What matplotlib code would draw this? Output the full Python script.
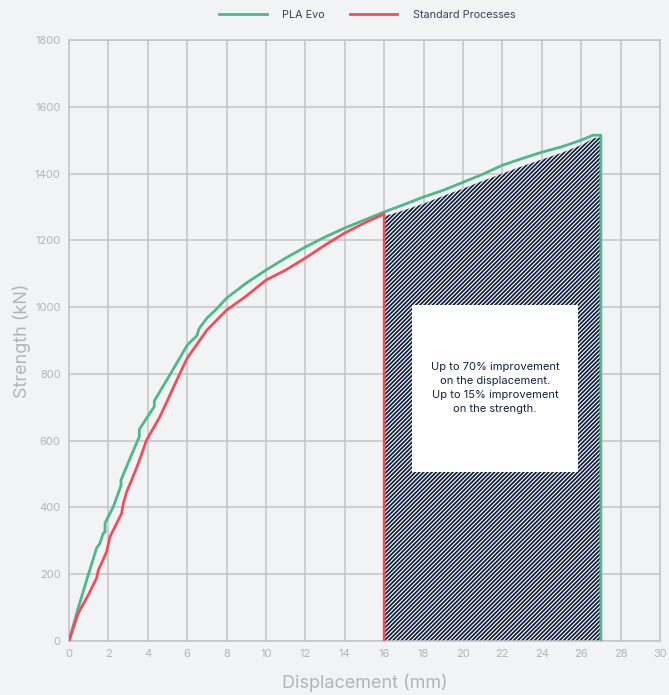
"""Strength vs displacement: PLA Evo vs standard processes."""

import matplotlib

matplotlib.use("Agg")
import matplotlib.pyplot as plt  # noqa: E402

# valors llegits del gràfic (desplaçament en mm, resistència en kN)
evo_x = [0, 0.45, 0.9, 1.4, 1.57, 1.74, 1.83, 1.83, 2.25, 2.64, 2.64, 3.1, 3.57, 3.57,
         4.33, 4.33, 4.96, 5.2, 5.3, 6.0, 6.5, 6.6, 7.0, 7.5, 8.0, 9.0, 10.0, 11.0,
         12.0, 13.0, 14.0, 15.0, 16.0, 17.0, 18.0, 19.0, 20.0, 21.0, 22.0, 23.0,
         24.0, 25.0, 26.0, 26.6, 27.0, 27.0]
evo_y = [0, 95, 183, 278, 293, 323, 326, 353, 402, 465, 482, 547, 612, 634,
         702, 719, 781, 805, 815, 886, 915, 935, 967, 995, 1027, 1072, 1111, 1147,
         1180, 1210, 1237, 1261, 1285, 1307, 1330, 1350, 1374, 1398, 1425, 1445,
         1464, 1480, 1500, 1515, 1515, 0]

std_x = [0, 0.47, 1.0, 1.4, 1.49, 1.91, 2.08, 2.42, 2.67, 2.76, 2.93, 3.18, 3.52,
         3.94, 4.62, 5.47, 6.0, 7.0, 8.0, 9.0, 10.0, 11.0, 12.0, 13.0, 14.0, 15.0,
         16.0, 16.0]
std_y = [0, 83, 140, 188, 212, 267, 312, 352, 382, 412, 447, 482, 532,
         602, 672, 781, 847, 931, 991, 1033, 1081, 1111, 1147, 1186, 1222, 1252,
         1279, 0]

# límit superior de la zona ratllada
hatch_x = [16.0, 17.0, 18.0, 19.0, 20.0, 21.0, 22.0, 23.0, 24.0, 25.0, 26.0, 26.6, 27.0]
hatch_y = [1272, 1290, 1310, 1333, 1355, 1378, 1400, 1422, 1442, 1462, 1485, 1505, 1510]

note = ("Up to 70% improvement\non the displacement.\n"
        "Up to 15% improvement\non the strength.")

GREEN = "#4db88a"
RED = "#f04e5b"
NAVY = "#13213f"
BG = "#f2f3f5"
GRID = "#c4c4c4"
TICK = "#b4b4b4"

plt.rcParams["font.family"] = ["Inter", "DejaVu Sans"]
plt.rcParams["hatch.linewidth"] = 1.3
plt.rcParams["hatch.color"] = NAVY

fig = plt.figure(figsize=(6.69, 6.95), dpi=100, facecolor=BG)
ax = fig.add_axes([0.1031, 0.0777, 0.8834, 0.8647], facecolor=BG)

ax.fill_between(hatch_x, 0, hatch_y, facecolor="white", edgecolor=NAVY,
                hatch="////////", linewidth=0, zorder=2)
ax.add_patch(plt.Rectangle((17.4, 505), 8.45, 500, facecolor="white",
                           edgecolor="none", zorder=3))
ax.text(21.62, 758, note, ha="center", va="center", fontsize=8,
        color=NAVY, linespacing=1.5, zorder=4)

ax.plot(evo_x, evo_y, color=GREEN, lw=2, label="PLA Evo", zorder=5)
ax.plot(std_x, std_y, color=RED, lw=2, label="Standard Processes", zorder=5)

ax.set_xlim(0, 30)
ax.set_ylim(0, 1800)
ax.set_xticks(range(0, 31, 2))
ax.set_yticks(range(0, 1801, 200))
ax.grid(True, color=GRID, lw=1.1, zorder=0)
ax.set_axisbelow(True)
ax.tick_params(length=0, labelsize=8, labelcolor=TICK, pad=6)
for s in ax.spines.values():
    s.set_color(GRID)
    s.set_linewidth(1.1)

ax.set_xlabel("Displacement (mm)", fontsize=13, color=TICK, labelpad=10)
ax.set_ylabel("Strength (kN)", fontsize=13, color=TICK, labelpad=3)

leg = fig.legend(loc="upper center", bbox_to_anchor=(0.549, 1.0), ncol=2,
                 frameon=False, fontsize=7.8, handlelength=4.4, columnspacing=2.3,
                 handletextpad=1.4)
for t in leg.get_texts():
    t.set_color("#3a4152")

fig.savefig("out.png", dpi=100, facecolor=BG)
